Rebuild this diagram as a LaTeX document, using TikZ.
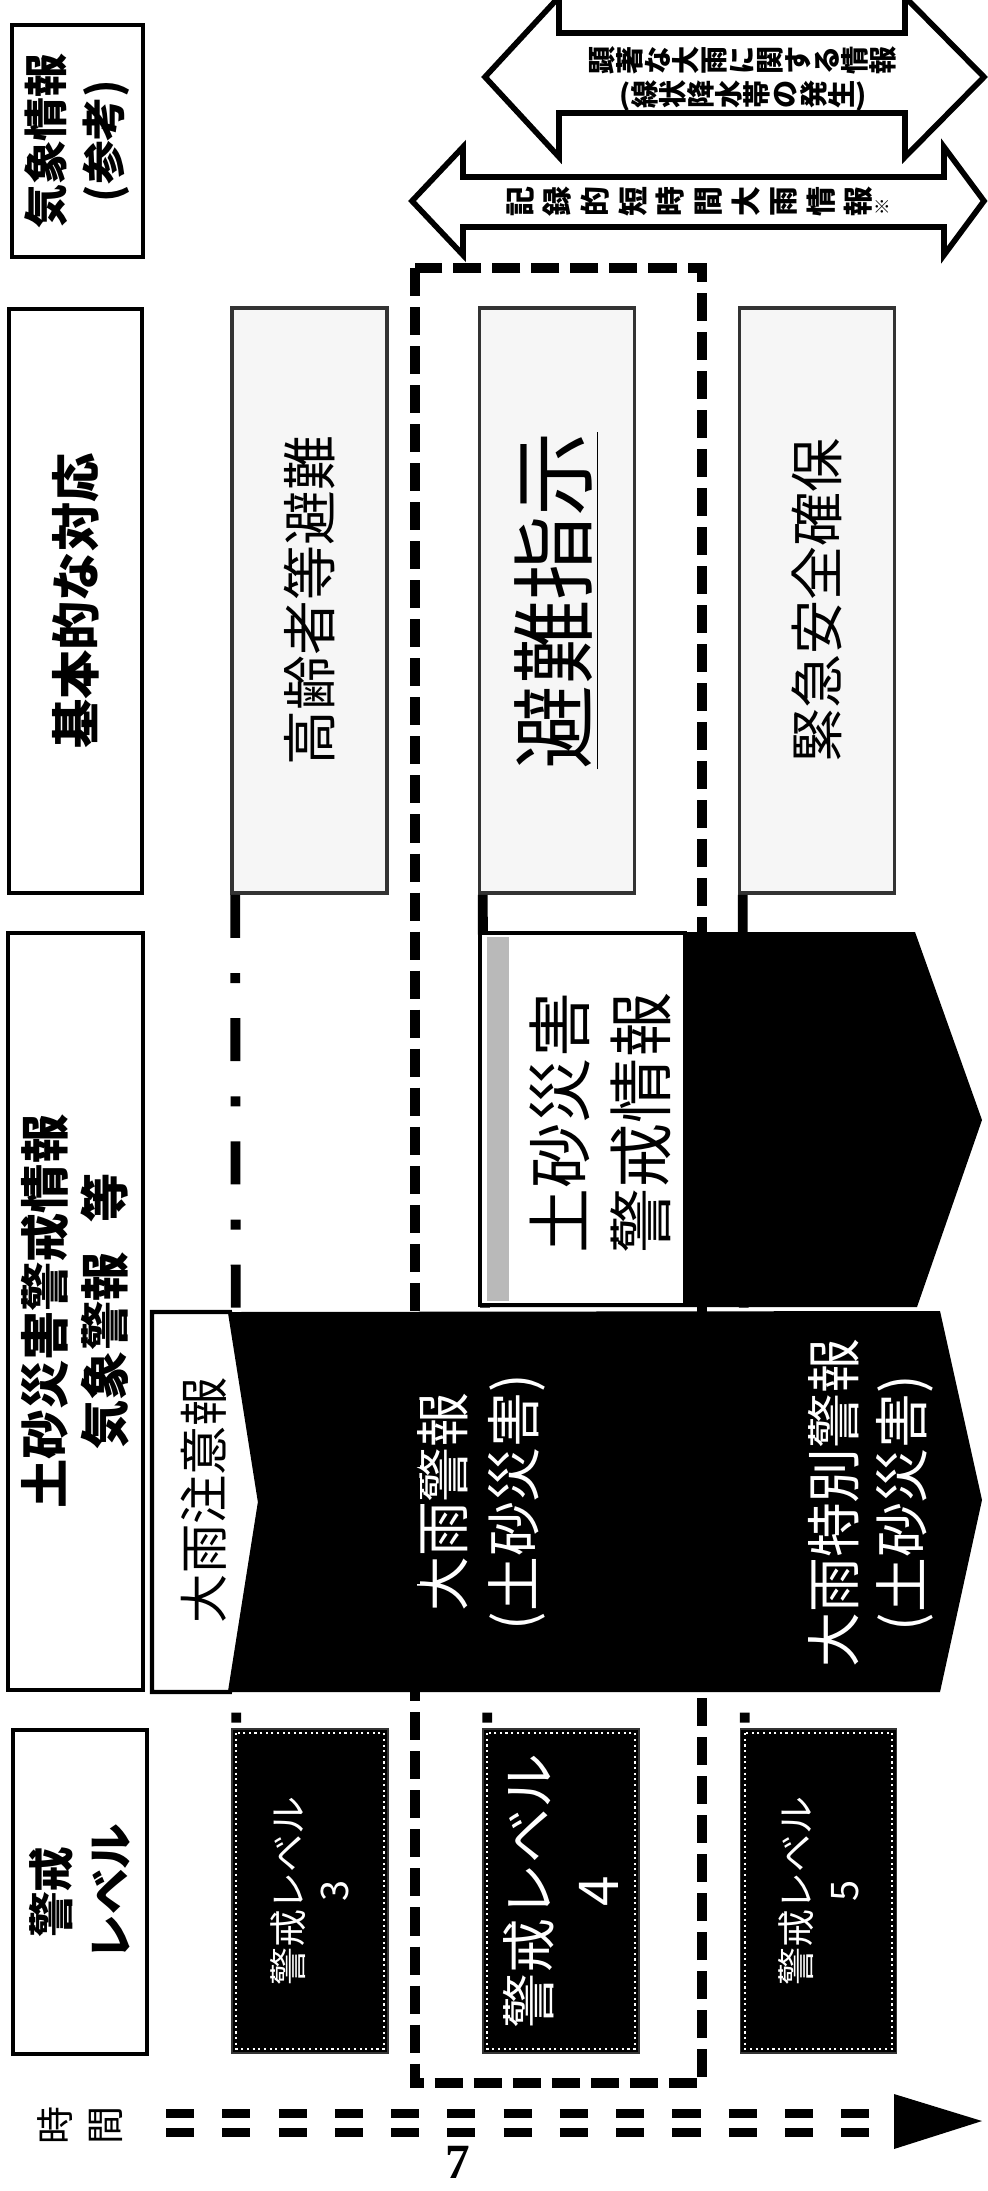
\documentclass[tikz,border=0pt]{standalone}
\usepackage{graphicx}
\usepackage{fontspec}
\setmainfont{Noto Sans CJK JP}
\newfontfamily\pagenumfont{Liberation Serif}

% vertical (tategaki) run: every character turned a quarter left
\newlength\tategap
\newcommand\tatebox[1]{\rotatebox[origin=c]{90}{\makebox[1em]{\vrule width 0pt height 0.88em depth 0.12em\relax #1}}}
\def\tatestop{\tatestop}
\def\tatego#1{\ifx#1\tatestop\else\hskip\tategap\tatebox{#1}\expandafter\tatego\fi}
\newcommand\tate[1]{\hskip-\tategap\tatego#1\tatestop}

\begin{document}
\begin{tikzpicture}[x=0.01cm, y=-0.01cm,
    hdrbox/.style={draw, line width=1.2pt, fill=white, rotate=90, align=center, inner sep=0pt, font=\bfseries\fontsize{14}{17}\selectfont},
    respbox/.style={draw=black!80, fill=gray!7, line width=1pt, rotate=90, minimum width=5.85cm, minimum height=1.55cm, inner sep=0pt},
    lvbox/.style={draw=black!80, fill=black, text=white, rotate=90, align=center, minimum width=3.24cm, minimum height=1.56cm, inner sep=0pt},
    wtext/.style={text=white, rotate=90, align=center, inner sep=0pt},
    artext/.style={inner sep=0pt, font=\bfseries\fontsize{8}{8}\selectfont},
    dashbox/.style={line width=2.85pt, dash pattern=on 7.97pt off 3.13pt},
    dashdot/.style={line width=2.8pt, dash pattern=on 12.2pt off 10pt on 2.85pt off 10pt},
    timedash/.style={line width=2.5pt, dash pattern=on 8pt off 8pt}]

    \fill[white] (0,0) rectangle (987,2191);
    \useasboundingbox (0,0) rectangle (987,2191);

    % header column
    \node[hdrbox, minimum width=2.32cm, minimum height=1.31cm, font=\bfseries\fontsize{12.5}{16.5}\selectfont] (kishoHd) at (77.5,141) {気象情報\\(参考)};
    \node[hdrbox, minimum width=5.84cm, minimum height=1.33cm] (taioHd) at (75.5,601) {基本的な対応};
    \node[hdrbox, minimum width=7.57cm, minimum height=1.35cm] (dosyaHd) at (75.5,1311.5) {土砂災害警戒情報\\気象警報\hspace{0.6em}等};
    \node[hdrbox, minimum width=3.24cm, minimum height=1.34cm, font=\bfseries\fontsize{13}{16.8}\selectfont] (levelHd) at (80,1892) {警戒\\レベル};

    % weather info arrows
    \filldraw[fill=white, line width=1.6pt, line join=miter] (485,77) -- (559,-3) -- (559,33) -- (905,33) -- (905,-3) -- (984,77)
        -- (905,157) -- (905,113) -- (559,113) -- (559,157) -- cycle;
    \filldraw[fill=white, line width=1.6pt, line join=miter] (412,201) -- (463,147) -- (463,177) -- (944,177) -- (944,147) -- (984,201)
        -- (944,255) -- (944,227) -- (463,227) -- (463,255) -- cycle;
    \node[artext] (kenchoA) at (742,60) {\tate{顕著な大雨に関する情報}};
    \node[artext] (kenchoB) at (743,96) {(\tate{線状降水帯の発生})};
    \node[artext, font=\bfseries\fontsize{8.5}{8.5}\selectfont] (kiroku) at (698,202) {\setlength\tategap{2.2pt}\tate{記録的短時間大雨情報}{\fontsize{5}{5}\selectfont ※}};

    % responses
    \node[respbox, font=\fontsize{15.6}{18}\selectfont] (resp3) at (309.5,600.5) {高齢者等避難};
    \node[respbox, font=\fontsize{24}{28}\selectfont] (resp4) at (557,600.5) {\underline{避難指示}};
    \node[respbox, font=\fontsize{15.4}{18}\selectfont] (resp5) at (817,600.5) {緊急安全確保};

    % levels
    \node[lvbox, font=\fontsize{10.8}{13}\selectfont] (lv3) at (310,1891) {警戒レベル\\3};
    \node[lvbox, font=\fontsize{15.6}{19.6}\selectfont] (lv4) at (561,1891) {警戒レベル\\4};
    \node[lvbox, font=\fontsize{10.8}{13.6}\selectfont] (lv5) at (818.5,1891) {警戒レベル\\5};
    \foreach \l in {lv3,lv4,lv5}
        \draw[white, densely dotted, line width=0.6pt] ([shift={(5,5)}]\l.north east) rectangle ([shift={(-5,-5)}]\l.south west);

    \foreach \r/\l in {resp3/lv3,resp4/lv4,resp5/lv5}
        \draw[dashdot] ([xshift=0.05cm]\r.north west) -- ([xshift=0.05cm]\l.north east);

    % warnings
    \fill (480,932) -- (915,932) -- (982,1120) -- (917,1307) -- (480,1307) -- cycle;
    \fill (230,1312) -- (940,1311) -- (982,1500) -- (940,1692) -- (230,1692) -- cycle;
    \filldraw[fill=white, line width=1.2pt] (152,1312) -- (230,1312) -- (260,1502) -- (230,1692) -- (152,1692) -- cycle;
    \node[draw, line width=1.2pt, fill=white, minimum width=2.05cm, minimum height=3.72cm, inner sep=0pt] (dsbox) at (582.5,1119) {};
    \fill[gray!55] (487,937) rectangle (509,1301);

    \node[rotate=90, inner sep=0pt, font=\fontsize{14}{17}\selectfont] (chuiho) at (204,1500) {大雨注意報};
    \node[wtext, font=\fontsize{15.6}{20.2}\selectfont] (keiho) at (481,1502) {大雨警報\\(土砂災害)};
    \node[wtext, font=\fontsize{15.6}{19.4}\selectfont] (tokubetsu) at (871,1503) {大雨特別警報\\(土砂災害)};
    \node[rotate=90, align=center, inner sep=0pt, font=\fontsize{18.5}{23}\selectfont] (dstext) at (600,1123) {土砂災害\\警戒情報};

    \draw[dashbox] (415,268) rectangle (702,2083);

    % time axis
    \coordinate (t0) at (166,2123);
    \coordinate (t1) at (894,2123);
    \draw[timedash] ([shift={(0,-9.5)}]t0) -- ([shift={(0,-9.5)}]t1);
    \draw[timedash] ([shift={(0,9.5)}]t0) -- ([shift={(0,9.5)}]t1);
    \fill ([shift={(0,-29)}]t1) -- ([shift={(88,-2)}]t1) -- ([shift={(0,26)}]t1) -- cycle;
    \node[inner sep=0pt, font=\fontsize{10.8}{10.8}\selectfont] (jikan) at (80,2125) {\setlength\tategap{3.4pt}\tate{時間}};

    \node[inner sep=0pt, anchor=base, font=\pagenumfont\bfseries\fontsize{14}{14}\selectfont] (pagenum) at (458,2178) {7};

\end{tikzpicture}
\end{document}
